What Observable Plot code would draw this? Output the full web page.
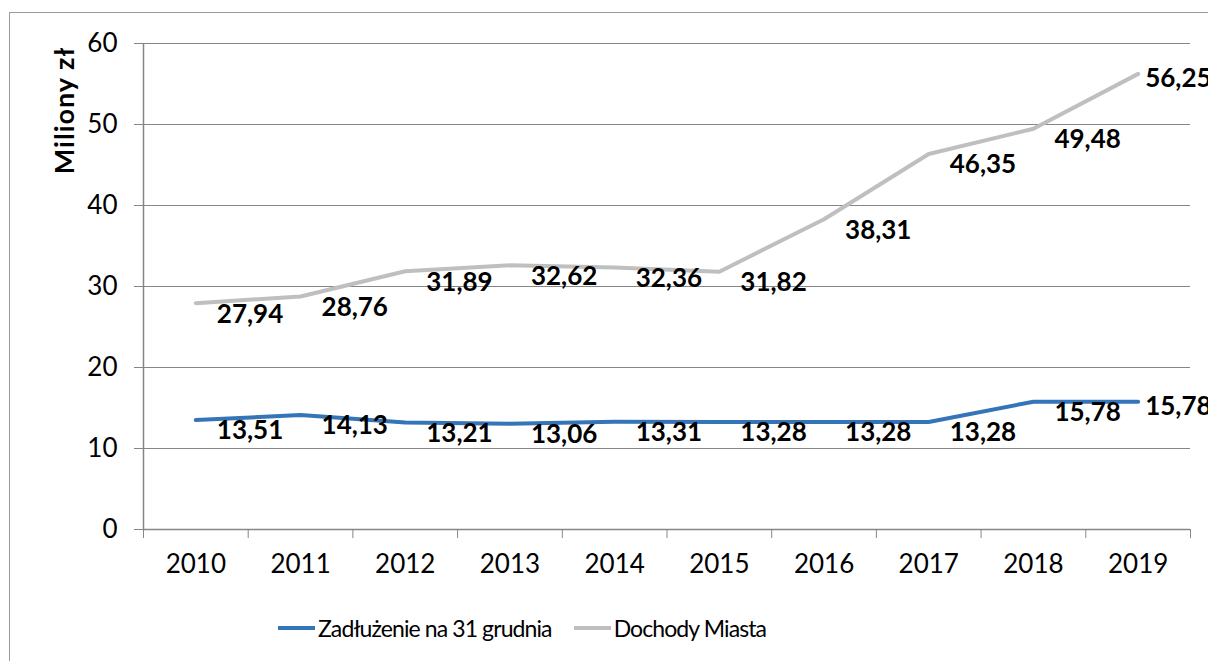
<!DOCTYPE html>
<html><head><meta charset="utf-8">
<script src="https://cdn.jsdelivr.net/npm/d3@7"></script>
<script src="https://cdn.jsdelivr.net/npm/@observablehq/plot@0.6"></script>
<style>
html,body{margin:0;padding:0;background:#fff;width:1208px;height:661px;overflow:hidden;font-family:Lato,sans-serif;}
#wrap{position:relative;width:1208px;height:661px;}
#frame{position:absolute;left:9px;top:12px;width:1400px;height:900px;border-left:1.5px solid #9a9a9a;border-top:1.5px solid #9a9a9a;pointer-events:none;z-index:2;}
#chart{position:absolute;left:0;top:0;}
#legend{position:absolute;left:278px;top:612px;height:32px;display:flex;align-items:center;font-size:23px;letter-spacing:-0.9px;color:#000;white-space:nowrap;}
.sw{display:inline-block;width:37px;height:4px;margin-right:3px;}
.item{display:flex;align-items:center;margin-right:22px;}
</style></head>
<body><div id="wrap"><div id="frame"></div><div id="chart"></div><div id="legend"></div></div>
<script>
const years = [2010, 2011, 2012, 2013, 2014, 2015, 2016, 2017, 2018, 2019];
const debt = [13.51, 14.13, 13.21, 13.06, 13.31, 13.28, 13.28, 13.28, 15.78, 15.78];
const income = [27.94, 28.76, 31.89, 32.62, 32.36, 31.82, 38.31, 46.35, 49.48, 56.25];
const seriesNames = ["Zadłużenie na 31 grudnia", "Dochody Miasta"];
const seriesColors = ["#3474b8", "#bfbfbf"];
const yTicks = [0, 10, 20, 30, 40, 50, 60];
const yTitle = "Miliony zł";

const rows = [];
years.forEach((yr, i) => {
  rows.push({year: yr, value: debt[i], series: seriesNames[0], last: i === years.length - 1});
  rows.push({year: yr, value: income[i], series: seriesNames[1], last: i === years.length - 1});
});
const fmt = v => d3.format(".2f")(v).replace(".", ",");
const boundaries = [years[0] - 0.5, ...years.map(y => y + 0.5)];
const grey = "#868686";

const plot = Plot.plot({
  width: 1208,
  height: 580,
  marginLeft: 143,
  marginRight: 18,
  marginTop: 43,
  marginBottom: 51,
  style: {fontFamily: "Lato, sans-serif", background: "transparent", overflow: "visible"},
  x: {type: "linear", domain: [years[0] - 0.5, years[years.length - 1] + 0.5]},
  y: {domain: [0, 60]},
  color: {domain: seriesNames, range: seriesColors},
  marks: [
    Plot.ruleY(yTicks.filter(d => d > 0), {stroke: grey, strokeWidth: 1.2}),
    Plot.ruleY([0], {stroke: grey, strokeWidth: 1.5}),
    Plot.ruleX([boundaries[0]], {stroke: grey, strokeWidth: 1.5}),
    Plot.axisY(yTicks, {tickSize: 9, tickPadding: 17, fontSize: 26, stroke: grey, color: "#000", label: null, tickFormat: d => String(d)}),
    Plot.axisX(boundaries, {tickSize: 9, tickFormat: () => "", stroke: grey, label: null}),
    Plot.axisX(years, {tickSize: 0, tickPadding: 25, fontSize: 26, color: "#000", label: null, tickFormat: d => String(d)}),
    Plot.line(rows, {x: "year", y: "value", z: "series", stroke: "series", strokeWidth: 4, strokeLinejoin: "round", strokeLinecap: "round"}),
    Plot.text(rows.filter(d => !d.last), {x: "year", y: "value", text: d => fmt(d.value), textAnchor: "start", dx: 21, dy: 11, fontSize: 26, fontWeight: "bold", fill: "#000"}),
    Plot.text(rows.filter(d => d.last), {x: "year", y: "value", text: d => fmt(d.value), textAnchor: "start", dx: 7, dy: 5, fontSize: 26, fontWeight: "bold", fill: "#000"}),
    Plot.text([yTitle], {frameAnchor: "top-left", text: d => d, rotate: -90, textAnchor: "middle", lineAnchor: "middle", dx: -78, dy: 67, fontSize: 27, fontWeight: "bold", fill: "#000"})
  ]
});
document.getElementById("chart").appendChild(plot);
plot.querySelectorAll("text").forEach(t => { if (t.textContent === yTitle) t.setAttribute("letter-spacing", "1"); });

const leg = document.getElementById("legend");
seriesNames.forEach((n, i) => {
  const it = document.createElement("div");
  it.className = "item";
  const sw = document.createElement("span");
  sw.className = "sw";
  sw.style.background = seriesColors[i];
  it.appendChild(sw);
  const t = document.createElement("span");
  t.textContent = n;
  it.appendChild(t);
  leg.appendChild(it);
});
</script></body></html>
